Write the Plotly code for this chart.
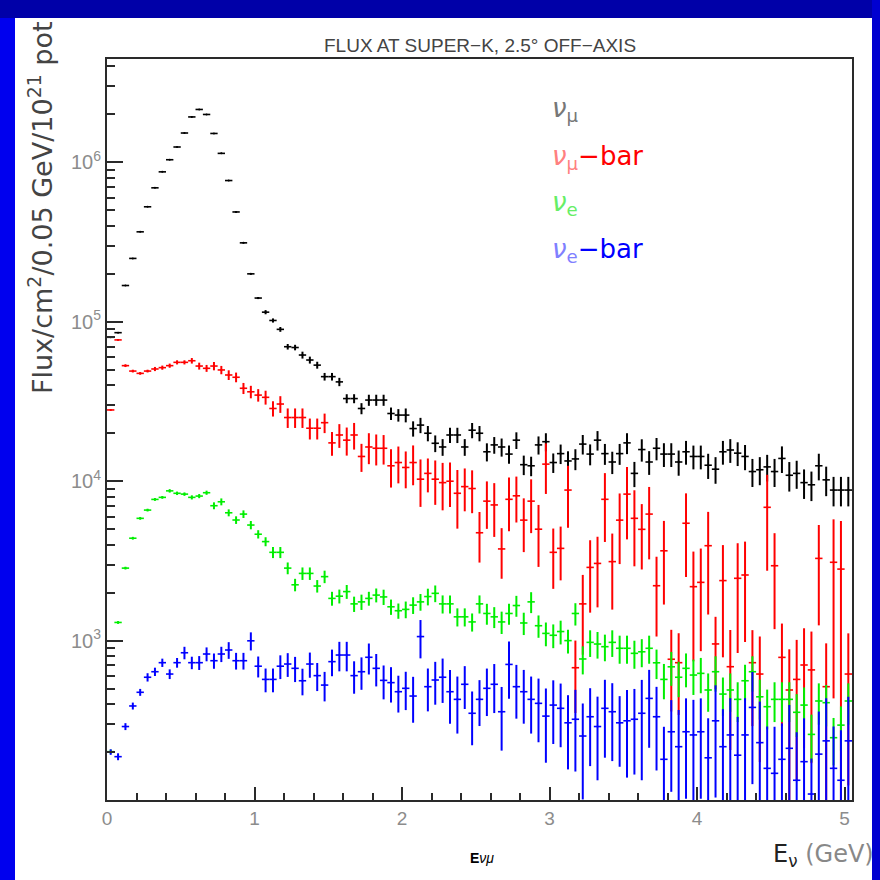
import plotly.graph_objects as go

# bin centres (GeV), 0.05 GeV bins
energy = [round(0.025 + 0.05 * k, 3) for k in range(101)]

numu = [8.0e4, 8.55e4, 1.69e5, 2.50e5, 3.67e5, 5.27e5, 6.93e5, 8.73e5, 1.04e6, 1.25e6,
        1.53e6, 1.93e6, 2.15e6, 2.0e6, 1.52e6, 1.14e6, 7.7e5, 4.89e5, 3.13e5, 2.0e5,
        1.41e5, 1.15e5, 1.02e5, 8.97e4, 6.98e4, 6.9e4, 6.19e4, 5.76e4, 5.35e4, 4.53e4,
        4.53e4, 4.2e4, 3.3e4, 3.3e4, 2.86e4, 3.23e4, 3.23e4, 3.23e4, 2.66e4, 2.6e4,
        2.6e4, 2.14e4, 2.25e4, 2.0e4, 1.73e4, 1.64e4, 1.95e4, 1.95e4, 1.64e4, 2.09e4,
        2.0e4, 1.53e4, 1.69e4, 1.64e4, 1.48e4, 1.81e4, 1.27e4, 1.25e4, 1.69e4, 1.77e4,
        1.31e4, 1.49e4, 1.34e4, 1.38e4, 1.71e4, 1.48e4, 1.81e4, 1.49e4, 1.32e4, 1.49e4,
        1.74e4, 1.12e4, 1.58e4, 1.32e4, 1.61e4, 1.48e4, 1.48e4, 1.32e4, 1.53e4, 1.43e4,
        1.43e4, 1.26e4, 1.19e4, 1.53e4, 1.57e4, 1.50e4, 1.43e4, 1.15e4, 1.18e4, 1.23e4,
        1.15e4, 1.39e4, 1.09e4, 1.12e4, 9.8e3, 9.5e3, 1.25e4, 1.02e4, 8.8e3, 8.8e3,
        8.8e3]
numu_rel = [0.004, 0.004, 0.004, 0.004, 0.004, 0.004, 0.004, 0.004, 0.004, 0.004,
            0.004, 0.004, 0.004, 0.006, 0.006, 0.008, 0.008, 0.01, 0.01, 0.012,
            0.015, 0.03, 0.03, 0.035, 0.04, 0.04, 0.05, 0.05, 0.05, 0.055,
            0.055, 0.06, 0.065, 0.065, 0.08, 0.08, 0.08, 0.08, 0.09, 0.09,
            0.1, 0.11, 0.11, 0.11, 0.12, 0.12, 0.11, 0.11, 0.12, 0.11,
            0.11, 0.13, 0.12, 0.13, 0.13, 0.12, 0.14, 0.14, 0.13, 0.13,
            0.14, 0.14, 0.15, 0.15, 0.14, 0.15, 0.14, 0.15, 0.16, 0.15,
            0.15, 0.18, 0.16, 0.17, 0.16, 0.17, 0.17, 0.18, 0.17, 0.17,
            0.17, 0.18, 0.19, 0.17, 0.17, 0.17, 0.18, 0.2, 0.2, 0.19,
            0.2, 0.19, 0.21, 0.2, 0.21, 0.21, 0.19, 0.21, 0.21, 0.21,
            0.21]

numubar = [2.8e4, 7.7e4, 5.31e4, 4.91e4, 4.75e4, 4.91e4, 5.06e4, 5.16e4, 5.31e4, 5.57e4,
           5.57e4, 5.7e4, 5.28e4, 5.11e4, 5.28e4, 4.99e4, 4.64e4, 4.49e4, 3.83e4, 3.64e4,
           3.47e4, 3.36e4, 2.86e4, 3.05e4, 2.51e4, 2.51e4, 2.51e4, 2.15e4, 2.15e4, 2.33e4,
           1.74e4, 1.95e4, 1.81e4, 1.95e4, 1.43e4, 1.64e4, 1.61e4, 1.61e4, 1.25e4, 1.31e4,
           1.22e4, 1.31e4, 1.03e4, 1.12e4, 1.03e4, 9.8e3, 1.0e4, 8.4e3, 9.25e3, 9.0e3,
           4.75e3, 7.5e3, 7.1e3, 3.76e3, 7.7e3, 8.1e3, 5.7e3, 7.5e3, 5.0e3, 1.28e4,
           3.58e3, 3.79e3, 8.8e3, 676, 1.7e3, 2.88e3, 3.05e3, 7.7e3, 3.13e3, 5.7e3,
           8.3e3, 5.85e3, 4.99e3, 6.22e3, 2.21e3, 3.66e3, 764, 727, 5.45e3, 2.18e3,
           2.32e3, 3.94e3, 953, 2.38e3, 686, 2.46e3, 2.58e3, 727, 617, 6.86e3,
           2.95e3, 785, 490, 571, 703, 655, 3.28e3, 514, 3.1e3, 2.81e3,
           617]
numubar_rel = [0.01, 0.01, 0.02, 0.02, 0.02, 0.02, 0.03, 0.03, 0.03, 0.03,
               0.03, 0.04, 0.05, 0.05, 0.06, 0.06, 0.07, 0.07, 0.08, 0.09,
               0.09, 0.1, 0.11, 0.12, 0.14, 0.14, 0.14, 0.15, 0.15, 0.14,
               0.17, 0.17, 0.2, 0.19, 0.2, 0.22, 0.22, 0.21, 0.27, 0.26,
               0.26, 0.28, 0.33, 0.24, 0.31, 0.33, 0.31, 0.4, 0.3, 0.3,
               0.35, 0.33, 0.37, 0.35, 0.37, 0.32, 0.37, 0.37, 0.42, 0.35,
               0.41, 0.37, 0.42, 0.48, 0.52, 0.48, 0.47, 0.46, 0.5, 0.47,
               0.48, 0.5, 0.44, 0.48, 0.52, 0.54, 0.53, 0.53, 0.54, 0.66,
               0.63, 0.63, 0.48, 0.67, 0.7, 0.66, 0.62, 0.6, 0.72, 0.6,
               0.6, 0.63, 0.8, 0.77, 0.7, 0.74, 0.62, 0.87, 0.86, 1.0,
               0.8]

nue = [201, 1.30e3, 2.85e3, 4.39e3, 5.85e3, 6.59e3, 7.69e3, 7.92e3, 8.7e3, 8.4e3,
       8.3e3, 7.92e3, 8.07e3, 8.47e3, 7.02e3, 7.43e3, 6.34e3, 5.71e3, 6.22e3, 5.31e3,
       4.65e3, 4.18e3, 3.58e3, 3.58e3, 2.85e3, 2.24e3, 2.64e3, 2.64e3, 2.2e3, 2.52e3,
       1.84e3, 1.9e3, 2.03e3, 1.7e3, 1.75e3, 1.84e3, 1.93e3, 1.88e3, 1.63e3, 1.54e3,
       1.57e3, 1.67e3, 1.75e3, 1.89e3, 1.98e3, 1.7e3, 1.7e3, 1.41e3, 1.41e3, 1.31e3,
       1.7e3, 1.48e3, 1.41e3, 1.31e3, 1.48e3, 1.66e3, 1.29e3, 1.75e3, 1.24e3, 1.11e3,
       1.08e3, 1.14e3, 1.0e3, 1.48e3, 767, 975, 952, 916, 975, 895,
       895, 832, 851, 895, 726, 571, 685, 589, 670, 608,
       623, 490, 638, 462, 490, 428, 560, 638, 444, 385,
       428, 428, 428, 355, 394, 258, 418, 408, 246, 295,
       418]
nue_rel = [0.03, 0.02, 0.02, 0.02, 0.02, 0.02, 0.02, 0.02, 0.025, 0.025,
           0.025, 0.03, 0.03, 0.03, 0.05, 0.05, 0.05, 0.055, 0.055, 0.06,
           0.06, 0.065, 0.08, 0.08, 0.085, 0.09, 0.09, 0.09, 0.09, 0.09,
           0.1, 0.1, 0.1, 0.11, 0.11, 0.1, 0.1, 0.11, 0.11, 0.11,
           0.12, 0.12, 0.12, 0.12, 0.12, 0.13, 0.13, 0.13, 0.13, 0.13,
           0.13, 0.15, 0.15, 0.16, 0.15, 0.15, 0.16, 0.15, 0.16, 0.17,
           0.17, 0.17, 0.17, 0.16, 0.2, 0.19, 0.19, 0.19, 0.19, 0.2,
           0.2, 0.2, 0.2, 0.2, 0.21, 0.25, 0.24, 0.25, 0.24, 0.25,
           0.25, 0.27, 0.25, 0.27, 0.27, 0.28, 0.26, 0.25, 0.28, 0.28,
           0.28, 0.28, 0.28, 0.3, 0.29, 0.33, 0.29, 0.29, 0.33, 0.31,
           0.29]

nuebar = [200, 187, 289, 389, 474, 589, 638, 727, 617, 727,
          839, 727, 727, 824, 748, 824, 873, 748, 748, 997,
          691, 571, 571, 691, 713, 670, 560, 713, 603, 526,
          738, 812, 812, 603, 638, 786, 670, 563, 545, 478,
          502, 449, 1.06e3, 514, 566, 589, 478, 428, 532, 350,
          428, 502, 532, 358, 709, 514, 478, 428, 404, 336,
          394, 376, 305, 321, 252, 333, 289, 376, 358, 305,
          314, 321, 350, 434, 333, 180, 268, 216, 268, 256,
          268, 184, 314, 216, 256, 191, 256, 381, 229, 158,
          147, 180, 211, 133, 174, 109, 194, 235, 158, 133,
          235]
nuebar_rel = [0.04, 0.05, 0.05, 0.05, 0.05, 0.06, 0.06, 0.06, 0.07, 0.07,
              0.09, 0.09, 0.1, 0.1, 0.11, 0.11, 0.12, 0.12, 0.12, 0.13,
              0.15, 0.17, 0.17, 0.17, 0.17, 0.18, 0.19, 0.18, 0.2, 0.21,
              0.19, 0.21, 0.21, 0.23, 0.23, 0.22, 0.23, 0.24, 0.25, 0.26,
              0.27, 0.32, 0.27, 0.3, 0.3, 0.31, 0.37, 0.39, 0.3, 0.37,
              0.32, 0.33, 0.34, 0.43, 0.39, 0.37, 0.37, 0.39, 0.43, 0.49,
              0.43, 0.43, 0.49, 0.53, 0.6, 0.51, 0.54, 0.51, 0.51, 0.47,
              0.56, 0.55, 0.62, 0.51, 0.54, 0.6, 0.58, 0.7, 0.62, 0.66,
              0.62, 0.77, 0.67, 0.72, 0.7, 0.74, 0.7, 0.67, 0.81, 0.83,
              0.96, 0.68, 0.87, 1.0, 0.87, 0.67, 0.85, 0.85, 0.83, 1.06,
              0.89]

series = [
    (numu, numu_rel, "#000000"),
    (numubar, numubar_rel, "#ff0000"),
    (nue, nue_rel, "#00ee00"),
    (nuebar, nuebar_rel, "#0000ff"),
]

fig = go.Figure()
for vals, rel, col in series:
    fig.add_trace(go.Scatter(
        x=energy, y=vals, mode="markers",
        marker=dict(size=2, color=col),
        error_x=dict(type="constant", value=0.025, width=0, thickness=1.6, color=col),
        error_y=dict(type="data", array=[v * r for v, r in zip(vals, rel)],
                     width=0, thickness=2, color=col),
        showlegend=False, hoverinfo="skip",
    ))

# pixel -> paper helpers (plot area: x 107..852, y 59..800)
L, R, T, B = 107, 852, 59, 800
def px(x):
    return (x - L) / (R - L)
def py(y):
    return (B - y) / (B - T)

minor_y = [m * 10 ** e for e in range(2, 7) for m in range(2, 10) if m * 10 ** e < 4.4e6]

axis_col = "#2a2a2a"
lab_col = "#8c8c8c"
fig.update_xaxes(range=[0, 5.05], showgrid=False, zeroline=False,
                 showline=True, linewidth=2, linecolor=axis_col, mirror=True,
                 ticks="inside", ticklen=13, tickwidth=2, tickcolor=axis_col,
                 tick0=0, dtick=1,
                 minor=dict(ticks="inside", ticklen=7, tickwidth=2, tickcolor=axis_col, dtick=0.2, tick0=0),
                 tickfont=dict(family="Liberation Sans", size=19, color=lab_col))
fig.update_yaxes(type="log", range=[2, 6.649], showgrid=False, zeroline=False,
                 showline=True, linewidth=2, linecolor=axis_col, mirror=True,
                 ticks="inside", ticklen=16, tickwidth=2, tickcolor=axis_col,
                 tickmode="array", tickvals=[1e3, 1e4, 1e5, 1e6],
                 ticktext=["10<sup>3</sup>", "10<sup>4</sup>", "10<sup>5</sup>", "10<sup>6</sup>"],
                 minor=dict(ticks="inside", ticklen=8, tickwidth=2, tickcolor=axis_col,
                            tickmode="array", tickvals=minor_y),
                 tickfont=dict(family="Liberation Sans", size=20, color=lab_col))

shapes = [
    dict(type="rect", xref="paper", yref="paper", x0=px(0), x1=px(15), y0=py(880), y1=py(0),
         fillcolor="#0000ee", line=dict(width=0), layer="above"),
    dict(type="rect", xref="paper", yref="paper", x0=px(0), x1=px(880), y0=py(18), y1=py(0),
         fillcolor="#0000a8", line=dict(width=0), layer="above"),
    dict(type="rect", xref="paper", yref="paper", x0=px(872), x1=px(880), y0=py(880), y1=py(0),
         fillcolor="#0000d0", line=dict(width=0), layer="above"),
]

ann = [
    dict(text="FLUX AT SUPER\u2212K, 2.5\u00b0 OFF\u2212AXIS", x=px(480), y=py(45),
         font=dict(family="Liberation Sans", size=19, color="#444444")),
    dict(text="Flux/cm<sup>2</sup>/0.05 GeV/10<sup>21</sup> pot", x=px(40), y=py(208), textangle=-90,
         font=dict(family="DejaVu Sans", size=27, color="#444444")),
    dict(text='<span style="color:#777777"><i>\u03bd</i><sub>\u03bc</sub></span>', x=px(550), y=py(110), xanchor="left",
         font=dict(family="DejaVu Sans", size=26, color="#555555")),
    dict(text='<span style="color:#ff8080"><i>\u03bd</i><sub>\u03bc</sub></span>\u2212bar', x=px(550), y=py(157), xanchor="left",
         font=dict(family="DejaVu Sans", size=26, color="#ff0000")),
    dict(text='<span style="color:#66ee66"><i>\u03bd</i><sub>e</sub></span>', x=px(550), y=py(204), xanchor="left",
         font=dict(family="DejaVu Sans", size=26, color="#00ee00")),
    dict(text='<span style="color:#8080ff"><i>\u03bd</i><sub>e</sub></span>\u2212bar', x=px(550), y=py(250), xanchor="left",
         font=dict(family="DejaVu Sans", size=26, color="#0000ff")),
    dict(text="<b>E</b><i>\u03bd\u03bc</i>", x=px(482), y=py(858),
         font=dict(family="Liberation Sans", size=14, color="#000000")),
    dict(text='E<sub>\u03bd</sub> <span style="color:#888888">(GeV)</span>', x=px(876), y=py(855), xanchor="right",
         font=dict(family="DejaVu Sans", size=24, color="#222222")),
]
for a in ann:
    a.setdefault("xref", "paper")
    a.setdefault("yref", "paper")
    a.setdefault("showarrow", False)
    a.setdefault("xanchor", "center")
    a.setdefault("yanchor", "middle")

fig.update_layout(width=880, height=880, autosize=False,
                  margin=dict(l=L, r=880 - R, t=T, b=880 - B),
                  paper_bgcolor="white", plot_bgcolor="white",
                  shapes=shapes, annotations=ann, showlegend=False)

fig.write_html("out.html", config={"displayModeBar": False},
               post_script="document.body.style.margin='0px';document.body.style.overflow='hidden';")
